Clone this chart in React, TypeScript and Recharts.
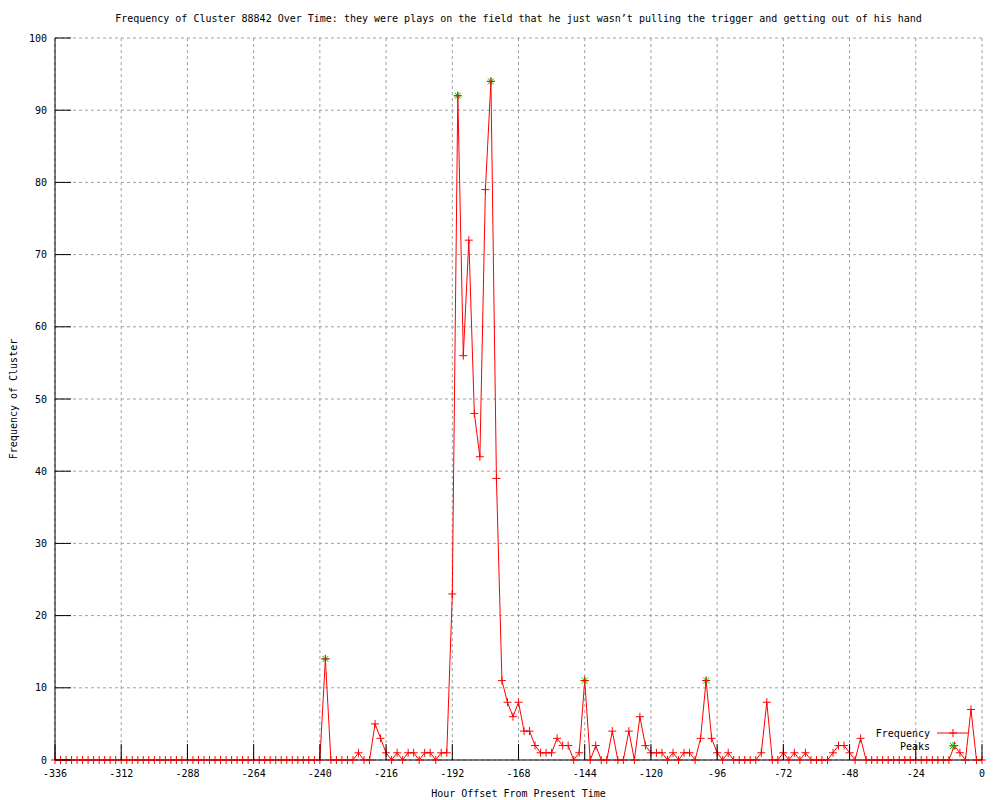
import React from "react";
import { CartesianGrid, ComposedChart, Legend, Line, XAxis, YAxis } from "recharts";

const FONT = "'DejaVu Sans Mono', 'Liberation Mono', monospace";

// hour offsets, one sample every 2 hours
const hours = Array.from({ length: 169 }, (_, i) => -336 + i * 2);

// cluster frequency per sample
const frequency = [
	// -336 .. -240
	0, 0, 0, 0, 0, 0, 0, 0, 0, 0,
	0, 0, 0, 0, 0, 0, 0, 0, 0, 0,
	0, 0, 0, 0, 0, 0, 0, 0, 0, 0,
	0, 0, 0, 0, 0, 0, 0, 0, 0, 0,
	0, 0, 0, 0, 0, 0, 0, 0, 0,
	// -238 .. 0
	14, 0, 0, 0, 0, 0, 1, 0, 0, 5,
	3, 1, 0, 1, 0, 1, 1, 0, 1, 1,
	0, 1, 1, 23, 92, 56, 72, 48, 42, 79,
	94, 39, 11, 8, 6, 8, 4, 4, 2, 1,
	1, 1, 3, 2, 2, 0, 1, 11, 0, 2,
	0, 0, 4, 0, 0, 4, 0, 6, 2, 1,
	1, 1, 0, 1, 0, 1, 1, 0, 3, 11,
	3, 1, 0, 1, 0, 0, 0, 0, 0, 1,
	8, 0, 0, 1, 0, 1, 0, 1, 0, 0,
	0, 0, 1, 2, 2, 1, 0, 3, 0, 0,
	0, 0, 0, 0, 0, 0, 0, 0, 0, 0,
	0, 0, 0, 0, 2, 1, 0, 7, 0, 0,
];

const peakHours = [-238, -190, -178, -144, -100];

const xTicks = [-336, -312, -288, -264, -240, -216, -192, -168, -144, -120, -96, -72, -48, -24, 0];
const yTicks = [0, 10, 20, 30, 40, 50, 60, 70, 80, 90, 100];

const data = hours.map((hour, i) => ({
	hour,
	frequency: frequency[i],
	peak: peakHours.includes(hour) ? frequency[i] : null,
}));

const Plus = ({ cx, cy, color }) => (
	<g>
		<line x1={cx - 4} x2={cx + 4} y1={cy} y2={cy} stroke={color} />
		<line x1={cx} x2={cx} y1={cy - 4} y2={cy + 4} stroke={color} />
	</g>
);

const Star = ({ cx, cy, color }) => (
	<g>
		<line x1={cx - 3} x2={cx + 3} y1={cy - 3} y2={cy + 3} stroke={color} />
		<line x1={cx - 3} x2={cx + 3} y1={cy + 3} y2={cy - 3} stroke={color} />
		<line x1={cx - 4} x2={cx + 4} y1={cy} y2={cy} stroke={color} />
		<line x1={cx} x2={cx} y1={cy - 4} y2={cy + 4} stroke={color} />
	</g>
);

const freqDot = (props) => {
	const { cx, cy, index } = props;
	if (cx == null || cy == null) return <g key={index} />;
	return (
		<g key={index}>
			<Plus cx={cx} cy={cy} color="#ff0000" />
		</g>
	);
};

const peakDot = (props) => {
	const { cx, cy, index, value } = props;
	if (cx == null || cy == null || value == null) return <g key={index} />;
	return (
		<g key={index}>
			<Star cx={cx} cy={cy} color="#00c000" />
		</g>
	);
};

const textProps = { fontSize: 10, fontFamily: FONT, fill: "#000" };

const BottomTick = ({ x, y, payload }) => (
	<g>
		<line x1={x} x2={x} y1={y} y2={y - 16} stroke="#000" />
		<text x={x} y={y + 17} textAnchor="middle" {...textProps}>
			{payload.value}
		</text>
	</g>
);

const TopTick = ({ x, y }) => <line x1={x} x2={x} y1={y} y2={y + 16} stroke="#000" />;

const LeftTick = ({ x, y, payload }) => (
	<g>
		<line x1={x} x2={x + 16} y1={y} y2={y} stroke="#000" />
		<text x={x - 8} y={y + 3.5} textAnchor="end" {...textProps}>
			{payload.value}
		</text>
	</g>
);

const RightTick = ({ x, y }) => <line x1={x} x2={x - 16} y1={y} y2={y} stroke="#000" />;

const XLabel = ({ viewBox }) => (
	<text x={viewBox.x + viewBox.width / 2} y={viewBox.y + 37} textAnchor="middle" {...textProps}>
		Hour Offset From Present Time
	</text>
);

const YLabel = ({ viewBox }) => {
	const cx = viewBox.x + 13;
	const cy = viewBox.y + viewBox.height / 2;
	return (
		<text
			x={cx}
			y={cy + 3.5}
			textAnchor="middle"
			transform={`rotate(-90 ${cx} ${cy})`}
			{...textProps}>
			Frequency of Cluster
		</text>
	);
};

const LegendBox = () => (
	<svg width={140} height={30} style={{ display: "block" }}>
		<text x={80} y={11.5} textAnchor="end" {...textProps}>
			Frequency
		</text>
		<line x1={87} x2={118} y1={8} y2={8} stroke="#ff0000" />
		<Plus cx={103} cy={8} color="#ff0000" />
		<text x={80} y={24.5} textAnchor="end" {...textProps}>
			Peaks
		</text>
		<Star cx={103} cy={21} color="#00c000" />
	</svg>
);

const App = () => {
	return (
		<div
			style={{
				position: "absolute",
				left: 0,
				top: 0,
				width: 1000,
				height: 800,
				background: "#fff",
				fontFamily: FONT,
			}}>
			<div
				style={{
					position: "absolute",
					left: 55,
					top: 13,
					width: 927,
					textAlign: "center",
					fontSize: 10,
					lineHeight: "12px",
					color: "#000",
					whiteSpace: "nowrap",
				}}>
				Frequency of Cluster 88842 Over Time: they were plays on the field that he just wasn’t pulling the trigger and getting out of his hand
			</div>
			<ComposedChart
				width={1000}
				height={800}
				data={data}
				margin={{ top: 38, right: 18, bottom: 0, left: 0 }}>
				<CartesianGrid stroke="#a0a0a0" strokeDasharray="3 3" />
				<XAxis
					dataKey="hour"
					type="number"
					domain={[-336, 0]}
					ticks={xTicks}
					interval={0}
					height={40}
					tickSize={0}
					tickMargin={0}
					tickLine={false}
					axisLine={{ stroke: "#000" }}
					tick={BottomTick}
					label={{ content: XLabel }}
				/>
				<XAxis
					xAxisId="top"
					orientation="top"
					dataKey="hour"
					type="number"
					domain={[-336, 0]}
					ticks={xTicks}
					interval={0}
					height={0}
					tickSize={0}
					tickMargin={0}
					tickLine={false}
					axisLine={{ stroke: "#000" }}
					tick={TopTick}
				/>
				<YAxis
					type="number"
					domain={[0, 100]}
					ticks={yTicks}
					interval={0}
					width={55}
					tickSize={0}
					tickMargin={0}
					tickLine={false}
					axisLine={{ stroke: "#000" }}
					tick={LeftTick}
					label={{ content: YLabel }}
				/>
				<YAxis
					yAxisId="right"
					orientation="right"
					type="number"
					domain={[0, 100]}
					ticks={yTicks}
					interval={0}
					width={0}
					tickSize={0}
					tickMargin={0}
					tickLine={false}
					axisLine={{ stroke: "#000" }}
					tick={RightTick}
				/>
				<Line
					dataKey="peak"
					stroke="none"
					dot={peakDot}
					activeDot={false}
					isAnimationActive={false}
				/>
				<Line
					type="linear"
					dataKey="frequency"
					stroke="#ff0000"
					strokeWidth={1}
					dot={freqDot}
					activeDot={false}
					isAnimationActive={false}
				/>
				<Legend
					layout="horizontal"
					verticalAlign="middle"
					align="center"
					wrapperStyle={{ left: 850, top: 725, width: 140, height: 30 }}
					content={LegendBox}
				/>
			</ComposedChart>
		</div>
	);
};

export default App;
